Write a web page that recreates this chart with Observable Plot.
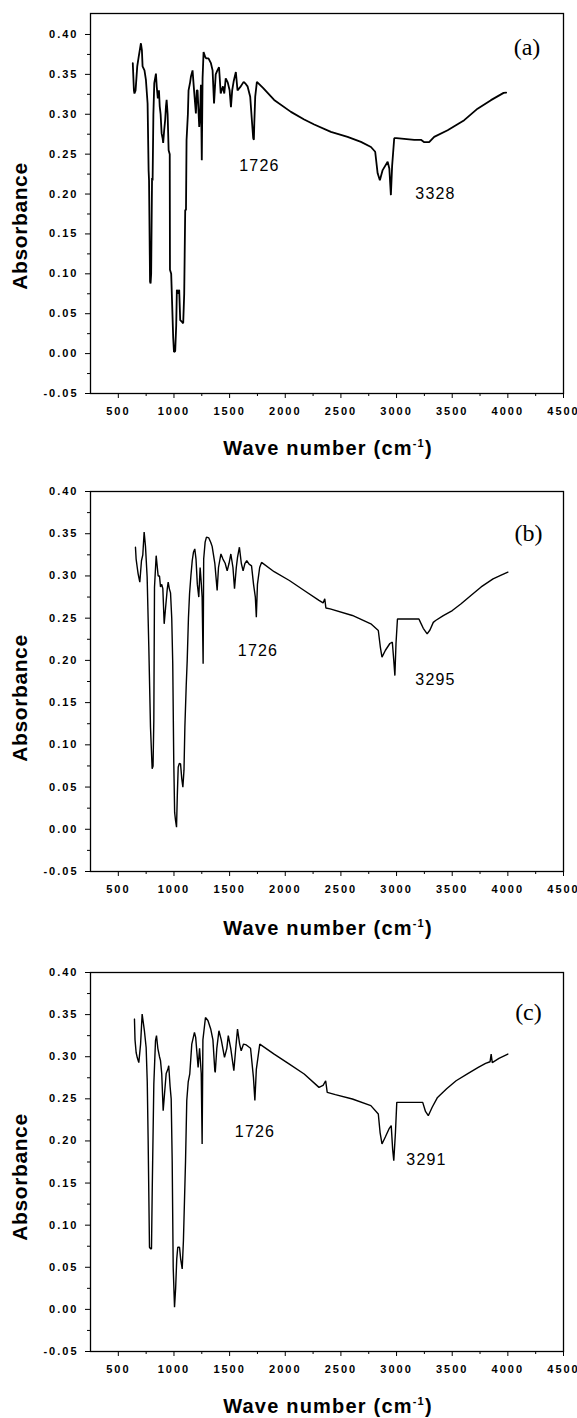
<!DOCTYPE html>
<html><head><meta charset="utf-8">
<script src="https://cdn.jsdelivr.net/npm/d3@7"></script>
<script src="https://cdn.jsdelivr.net/npm/@observablehq/plot@0.6"></script>
<style>
body{margin:0;background:#fff;}
#wrap{position:relative;width:577px;height:1418px;background:#fff;}
#wrap svg{position:absolute;left:0;}
</style></head><body><div id="wrap"></div>
<script>
// ---- Data: panel (a) ----
const wnA = [630,640,645,655,670,683,703,712,718,735,748,763,772,776,785,790,795,803,808,815,823,838,845,855,865,872,880,889,898,903,912,921,928,934,943,952,962,964,975,993,1000,1011,1020,1026,1040,1047,1056,1070,1083,1092,1101,1108,1113,1125,1131,1145,1152,1167,1175,1185,1197,1205,1212,1227,1235,1242,1250,1257,1266,1280,1290,1310,1332,1347,1360,1375,1390,1405,1420,1440,1452,1465,1483,1500,1512,1523,1536,1556,1571,1595,1626,1645,1661,1685,1700,1712,1718,1722,1730,1745,1800,1900,2051,2170,2260,2410,2560,2680,2770,2808,2830,2850,2875,2920,2935,2949,2960,2979,3000,3159,3219,3249,3293,3338,3459,3608,3728,3848,3962,3985];
const absA = [0.364,0.33,0.326,0.33,0.36,0.372,0.389,0.38,0.36,0.355,0.343,0.3135,0.23,0.217,0.09,0.088,0.10,0.22,0.217,0.30,0.339,0.351,0.335,0.32,0.33,0.31,0.30,0.276,0.27,0.264,0.28,0.293,0.31,0.318,0.30,0.255,0.25,0.105,0.10,0.02,0.002,0.003,0.035,0.08,0.075,0.08,0.042,0.04,0.038,0.075,0.18,0.18,0.2675,0.30,0.33,0.34,0.347,0.355,0.34,0.322,0.301,0.33,0.33,0.284,0.30,0.337,0.2425,0.345,0.378,0.372,0.37,0.37,0.364,0.355,0.3135,0.35,0.355,0.359,0.326,0.335,0.326,0.345,0.34,0.33,0.309,0.33,0.341,0.353,0.33,0.334,0.3406,0.338,0.335,0.322,0.2925,0.27,0.268,0.29,0.322,0.3406,0.333,0.318,0.303,0.2935,0.2872,0.278,0.2717,0.2654,0.259,0.253,0.226,0.2174,0.23,0.2404,0.232,0.1986,0.235,0.27,0.27,0.268,0.268,0.265,0.265,0.2717,0.28,0.2926,0.307,0.3177,0.3268,0.327];

// ---- Data: panel (b) ----
const wnB = [654,660,670,678,693,708,720,732,744,759,774,789,804,812,819,825,840,858,870,879,890,900,912,925,940,948,958,969,980,989,998,1006,1014,1023,1030,1038,1048,1059,1070,1080,1090,1098,1110,1119,1130,1140,1152,1164,1175,1187,1198,1210,1223,1235,1246,1253,1262,1267,1280,1292,1313,1330,1343,1367,1388,1400,1422,1440,1460,1478,1495,1511,1530,1544,1560,1571,1588,1605,1621,1638,1654,1675,1697,1715,1731,1740,1750,1770,1787,1900,2037,2170,2303,2340,2355,2365,2403,2603,2769,2836,2855,2869,2900,2940,2962,2975,2985,2995,3008,3100,3201,3215,3240,3275,3300,3330,3351,3420,3501,3580,3668,3760,3867,3940,4000];
const absB = [0.334,0.32,0.31,0.3025,0.2926,0.318,0.325,0.352,0.335,0.2985,0.2156,0.121,0.0716,0.075,0.129,0.2867,0.324,0.30,0.30,0.287,0.29,0.285,0.2433,0.263,0.285,0.2926,0.285,0.28,0.25,0.196,0.081,0.02,0.0104,0.0025,0.04,0.0735,0.078,0.0775,0.06,0.0498,0.07,0.121,0.17,0.2,0.25,0.279,0.30,0.318,0.328,0.332,0.32,0.29,0.275,0.31,0.29,0.275,0.196,0.32,0.34,0.346,0.345,0.34,0.335,0.315,0.2828,0.31,0.326,0.32,0.315,0.306,0.315,0.326,0.31,0.285,0.31,0.322,0.334,0.315,0.306,0.315,0.318,0.314,0.312,0.29,0.275,0.251,0.29,0.31,0.316,0.305,0.2946,0.2828,0.271,0.268,0.273,0.262,0.261,0.2532,0.2433,0.2354,0.215,0.2038,0.212,0.22,0.2215,0.2,0.182,0.22,0.249,0.249,0.249,0.245,0.238,0.2315,0.236,0.245,0.2472,0.253,0.259,0.267,0.2768,0.287,0.2966,0.301,0.3045];

// ---- Data: panel (c) ----
const wnC = [645,650,660,670,684,700,714,725,735,750,760,768,780,790,798,805,819,834,843,855,870,879,890,903,915,930,945,953,965,975,984,993,1005,1015,1025,1034,1050,1060,1074,1085,1104,1115,1128,1142,1160,1184,1195,1217,1230,1245,1253,1260,1283,1305,1330,1350,1367,1371,1385,1404,1425,1454,1475,1488,1510,1538,1555,1571,1590,1604,1625,1650,1688,1714,1727,1740,1771,1900,2037,2170,2303,2340,2363,2377,2450,2603,2769,2836,2852,2869,2900,2935,2952,2965,2975,2990,3002,3100,3235,3260,3285,3320,3368,3450,3535,3640,3734,3800,3840,3850,3860,3920,4000];
const absC = [0.3447,0.32,0.305,0.299,0.293,0.315,0.3506,0.34,0.33,0.311,0.27,0.2003,0.0738,0.072,0.072,0.145,0.2676,0.319,0.325,0.31,0.30,0.2953,0.28,0.236,0.2557,0.28,0.285,0.2893,0.265,0.25,0.1766,0.05,0.0026,0.025,0.06,0.0738,0.0738,0.06,0.048,0.0817,0.1766,0.248,0.27,0.2795,0.315,0.3288,0.323,0.2873,0.31,0.28,0.1964,0.32,0.3466,0.343,0.333,0.32,0.2834,0.2814,0.31,0.3308,0.32,0.2992,0.31,0.325,0.31,0.2834,0.31,0.3329,0.315,0.307,0.315,0.314,0.31,0.2755,0.248,0.285,0.315,0.303,0.2913,0.2795,0.2636,0.266,0.2715,0.2577,0.255,0.2498,0.2419,0.232,0.21,0.1964,0.205,0.215,0.2182,0.19,0.1766,0.21,0.2458,0.2458,0.2458,0.235,0.23,0.24,0.2517,0.262,0.2715,0.28,0.2873,0.292,0.294,0.3032,0.293,0.298,0.3032];

// ---- Tick values ----
const xMajorTicks = [500,1000,1500,2000,2500,3000,3500,4000,4500];
const xMinorTicks = [750,1250,1750,2250,2750,3250,3750,4250];
const yMajorTicks = [-0.05,0,0.05,0.10,0.15,0.20,0.25,0.30,0.35,0.40];
const yMinorTicks = [-0.025,0.025,0.075,0.125,0.175,0.225,0.275,0.325,0.375];

// ---- Annotations (wavenumber, absorbance, text) ----
const peakLabelsA = [{x:1768,y:0.2356,t:"1726"},{x:3350,y:0.2005,t:"3328"}];
const peakLabelsB = [{x:1755,y:0.2117,t:"1726"},{x:3350,y:0.1774,t:"3295"}];
const peakLabelsC = [{x:1728,y:0.2104,t:"1726"},{x:3269,y:0.1778,t:"3291"}];
const panelTags = [{x:4172,y:0.3835,t:"(a)"},{x:4185,y:0.3509,t:"(b)"},{x:4185,y:0.3522,t:"(c)"}];

const xTitle = "Wave number (cm";
const yTitle = "Absorbance";

const panels = [
  {wn:wnA, ab:absA, labels:peakLabelsA, tag:panelTags[0], top:0, height:470, mt:13, mb:77, yTop:0.4263, yTitleY:226, xTitleY:455, lw:1.8},
  {wn:wnB, ab:absB, labels:peakLabelsB, tag:panelTags[1], top:470, height:470, mt:21, mb:69, yTop:0.40, yTitleY:228, xTitleY:465, lw:1.4},
  {wn:wnC, ab:absC, labels:peakLabelsC, tag:panelTags[2], top:940, height:478, mt:32, mb:67, yTop:0.40, yTitleY:237, xTitleY:473, lw:1.4}
];

const wrap = document.getElementById("wrap");
for (const p of panels) {
  const rows = p.wn.map((w, i) => ({w, a: p.ab[i]}));
  const svg = Plot.plot({
    width: 577, height: p.height,
    marginLeft: 90, marginRight: 14, marginTop: p.mt, marginBottom: p.mb,
    x: {domain: [250, 4500]},
    y: {domain: [-0.05, p.yTop]},
    style: {fontFamily: "'Liberation Sans', Arial, sans-serif", fontSize: "11px", fontWeight: "bold", color: "#000", background: "#fff", overflow: "visible"},
    marks: [
      Plot.axisX(xMajorTicks, {tickSize: 5, tickPadding: 9, tickFormat: d => String(d), label: null, fontSize: 11}),
      Plot.axisX(xMinorTicks, {tickSize: 3, tickFormat: () => "", label: null}),
      Plot.axisY(yMajorTicks, {tickSize: 5, tickPadding: 7, tickFormat: d => d.toFixed(2), label: null, fontSize: 11}),
      Plot.axisY(yMinorTicks, {tickSize: 3, tickFormat: () => "", label: null}),
      Plot.frame({stroke: "#000", strokeWidth: 1.3}),
      Plot.line(rows, {x: "w", y: "a", stroke: "#000", strokeWidth: p.lw, strokeLinejoin: "miter"}),
      Plot.text(p.labels, {x: "x", y: "y", text: "t", fontSize: 16, fontWeight: "normal", fontFamily: "'Liberation Sans', Arial, sans-serif"}),
      Plot.text([p.tag], {x: "x", y: "y", text: "t", fontSize: 24, fontWeight: "normal", fontFamily: "'Liberation Serif', 'Times New Roman', serif"})
    ]
  });
  svg.style.top = p.top + "px";
  const s = d3.select(svg);
  s.selectAll("g[aria-label='x-axis tick label'] text, g[aria-label='y-axis tick label'] text").style("letter-spacing", "2px");
  s.selectAll("text").filter(function(){ return this.textContent === p.labels[0].t || this.textContent === p.labels[1].t; }).style("letter-spacing", "1.2px");
  s.append("text")
    .attr("transform", `translate(27,${p.yTitleY}) rotate(-90)`)
    .attr("text-anchor", "middle")
    .attr("font-family", "'Liberation Sans', Arial, sans-serif")
    .attr("font-size", 21).attr("font-weight", "bold").style("letter-spacing", "0.6px")
    .text(yTitle);
  const t = s.append("text")
    .attr("x", 328).attr("y", p.xTitleY)
    .attr("text-anchor", "middle")
    .attr("font-family", "'Liberation Sans', Arial, sans-serif")
    .attr("font-size", 20).attr("font-weight", "bold").style("letter-spacing", "1.2px");
  t.append("tspan").text(xTitle);
  t.append("tspan").attr("dy", -8).attr("font-size", 11).text("-1");
  t.append("tspan").attr("dy", 8).text(")");
  wrap.appendChild(svg);
}
</script></body></html>
